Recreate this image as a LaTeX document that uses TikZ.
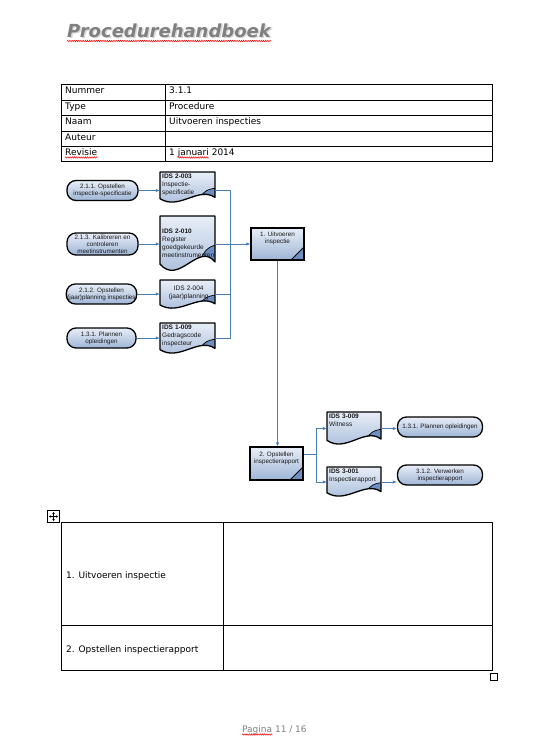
\documentclass[tikz,border=0pt]{standalone}
\usepackage{fontspec}
\setmainfont{DejaVu Sans}
\newfontfamily\flowfont{Liberation Sans}
\usetikzlibrary{arrows.meta,calc,decorations.pathmorphing}
\definecolor{flowblue}{RGB}{74,126,187}
\definecolor{fillA}{RGB}{232,238,247}
\definecolor{fillB}{RGB}{158,181,214}
\definecolor{foldblue}{RGB}{110,143,194}
\definecolor{titlegray}{RGB}{128,128,128}
\definecolor{inkgray}{RGB}{25,25,25}

\newcommand{\flowsize}{\flowfont\fontsize{6.3}{7}\selectfont}
\newcommand{\docsize}{\flowfont\fontsize{6.5}{8}\selectfont}
\newcommand{\tabsize}{\fontsize{9}{11}\selectfont}

\tikzset{
  docpath/.style={insert path={(0,0) -- (\dw,0) -- (\dw,0.82*\dh)
      .. controls (0.7*\dw,0.45*\dh) and (0.35*\dw,1.25*\dh) .. (0,0.86*\dh) -- cycle}},
}

% document shape: name, left, top, width, height, text options, text
\newcommand{\docbox}[7]{%
  \begin{scope}[shift={(#2,#3)}]
    \def\dw{#4}\def\dh{#5}
    \shade[top color=fillA, bottom color=fillB, docpath];
    \begin{scope}
      \clip[docpath];
      \fill[foldblue] (\dw,0.52*\dh) .. controls (0.84*\dw,0.58*\dh) .. (0.7*\dw,0.85*\dh)
        -- (0.7*\dw,\dh) -- (\dw,\dh) -- cycle;
      \draw[line width=0.7pt] (\dw,0.52*\dh) .. controls (0.84*\dw,0.58*\dh) .. (0.7*\dw,0.85*\dh);
    \end{scope}
    \draw[line width=1.3pt, line join=round, docpath];
    \node[docframe, minimum width=#4pt, minimum height=#5pt] (#1) at (#4/2,#5/2) {};
    \node[doctext, #6] (#1t) at (1,1) {#7};
  \end{scope}}

\begin{document}
\begin{tikzpicture}[x=1pt, y=-1pt,
    termbox/.style={rectangle, rounded corners=9pt, draw=black, line width=1.3pt,
                    top color=fillA, bottom color=fillB, font=\flowsize, text=inkgray,
                    align=center, inner sep=1pt},
    procbox/.style={rectangle, draw=black, line width=1.3pt, top color=fillA, bottom color=fillB,
                    font=\flowsize, text=inkgray, align=center, inner sep=1pt,
                    path picture={
                      \fill[foldblue] (path picture bounding box.south east) -- ++(-13pt,0pt) -- ++(13pt,13pt) -- cycle;
                      \draw[line width=1pt] ($(path picture bounding box.south east)+(-13pt,0pt)$) -- ++(13pt,13pt);}},
    docframe/.style={rectangle, inner sep=0pt},
    doctext/.style={anchor=north west, inner sep=1pt, font=\docsize, text=inkgray,
                    align=left, text width=53pt},
    tabtext/.style={anchor=base west, inner sep=0pt, font=\tabsize},
    wiggle/.style={red, line width=0.5pt, decorate,
                   decoration={snake, amplitude=0.7pt, segment length=2.2pt}},
    line/.style={draw=flowblue, line width=0.8pt},
    flow/.style={line, -{Latex[length=4pt,width=3.5pt]}}
]
    \useasboundingbox (0,0) rectangle (543,745);
    \fill[white] (0,0) rectangle (543,745);

    % Title
    \node[tabtext, font=\fontsize{18}{20}\selectfont\bfseries\itshape, text=titlegray!30] (titleshadow) at (68.5,38.5) {Procedurehandboek};
    \node[tabtext, font=\fontsize{18}{20}\selectfont\bfseries\itshape, text=titlegray] (title) at (67,37) {Procedurehandboek};
    \draw[wiggle] ($(title.base west)+(0,4)$) -- ($(title.base east)+(0,4)$);

    % Header table
    \draw[line width=0.7pt] (61,84) rectangle (492,161);
    \foreach \y in {100,115,131,146}
        \draw[line width=0.7pt] (61,\y) -- (492,\y);
    \draw[line width=0.7pt] (165,84) -- (165,161);
    \foreach \y/\k/\v in {84/Nummer/3.1.1, 100/Type/Procedure, 115/Naam/Uitvoeren inspecties,
                          131/Auteur/{}, 146/Revisie/1 januari 2014} {
        \node[tabtext] (k\y) at (65,\y+9) {\k};
        \node[tabtext] (v\y) at (169,\y+9) {\v};
    }
    \draw[wiggle] ($(k146.base west)+(0,2.5)$) -- ($(k146.base east)+(0,2.5)$);
    \draw[wiggle] ($(v146.base west)+(8.6,2.5)$) -- ++(31.1,0);

    % Incoming activities
    \node[termbox, minimum width=71pt, minimum height=20pt] (s1) at (102.5,190.5) {2.1.1. Opstellen\\inspectie-specificatie};
    \node[termbox, minimum width=71pt, minimum height=22pt] (s2) at (102.5,244) {2.1.3. Kalibreren en\\controleren\\meetinstrumenten};
    \node[termbox, minimum width=69pt, minimum height=20pt] (s3) at (101.5,294) {2.1.2. Opstellen\\(jaar)planning inspecties};
    \node[termbox, minimum width=69pt, minimum height=20pt] (s4) at (101.5,338) {1.3.1. Plannen\\opleidingen};

    % Input documents
    \docbox{d1}{160}{172}{55}{31}{}{\textbf{IDS 2-003}\\Inspectie-\\specificatie}
    \docbox{d2}{160}{216}{55}{56}{yshift=-11pt}{\textbf{IDS 2-010}\\Register\\goedgekeurde\\meetinstrumenten}
    \docbox{d3}{160}{280}{55}{29}{yshift=-4pt, align=center}{IDS 2-004\\(jaar)planning}
    \docbox{d4}{160}{323}{55}{31}{}{\textbf{IDS 1-009}\\Gedragscode\\inspecteur}

    % Process steps
    \node[procbox, minimum width=53pt, minimum height=32pt] (p1) at (277.5,244) {1. Uitvoeren\\inspectie\\[6pt]};
    \node[procbox, minimum width=53pt, minimum height=33pt] (p2) at (276.5,463.5) {2. Opstellen\\inspectierapport\\[4pt]};

    % Output documents
    \docbox{w3}{327}{412}{54}{33}{}{\textbf{IDS 3-009}\\Witness}
    \docbox{w4}{327}{467}{54}{30}{}{\textbf{IDS 3-001}\\Inspectierapport}

    % Outgoing activities
    \node[termbox, minimum width=85pt, minimum height=20pt] (o5) at (440,427) {1.3.1. Plannen opleidingen};
    \node[termbox, minimum width=85pt, minimum height=20pt] (o6) at (440,475) {3.1.2. Verwerken\\inspectierapport};

    % Connectors
    \coordinate (bus) at (230.5,244);
    \foreach \n in {1,...,4}
        \draw[flow] (s\n.east) -- (s\n.east -| d\n.west);
    \draw[line] (s1.east -| d1.east) -| (bus);
    \draw[line] (s3.east -| d3.east) -| (bus);
    \draw[line] (s4.east -| d4.east) -| (bus);
    \draw[flow] (s2.east -| d2.east) -- (s2.east -| p1.west);
    \draw[flow] (p1.south) -- (p1.south |- p2.north);
    \coordinate (split) at (316.5,454);
    \draw[line] (split -| p2.east) -- (split);
    \draw[flow] (split) |- (w3.west);
    \draw[flow] (split) |- (w4.west);
    \draw[flow] (w3.east) -- (w3.east -| o5.west);
    \draw[flow] (w4.east) -- (w4.east -| o6.west);

    % Description table
    \node[draw, line width=0.6pt, minimum size=12pt, inner sep=0pt] (movehandle) at (53.5,516.5) {};
    \foreach \dx/\dy in {4.5/0,-4.5/0,0/4.5,0/-4.5}
        \draw[line width=0.6pt, -{Stealth[length=2pt,width=2.4pt]}] (movehandle.center) -- ++(\dx,\dy);
    \draw[line width=0.7pt] (61,522) rectangle (492,670);
    \draw[line width=0.7pt] (61,625) -- (492,625);
    \draw[line width=0.7pt] (223,522) -- (223,670);
    \node[tabtext] (step1) at (66,578) {1. Uitvoeren inspectie};
    \node[tabtext] (step2) at (66,652) {2. Opstellen inspectierapport};
    \node[draw, line width=0.6pt, minimum size=7pt, inner sep=0pt] (sizehandle) at (493.5,677) {};

    % Footer
    \node[tabtext, text=gray] (footer) at (242,732) {Pagina 11 / 16};
    \draw[wiggle] ($(footer.base west)+(0,2.5)$) -- ++(30.4,0);
\end{tikzpicture}
\end{document}
